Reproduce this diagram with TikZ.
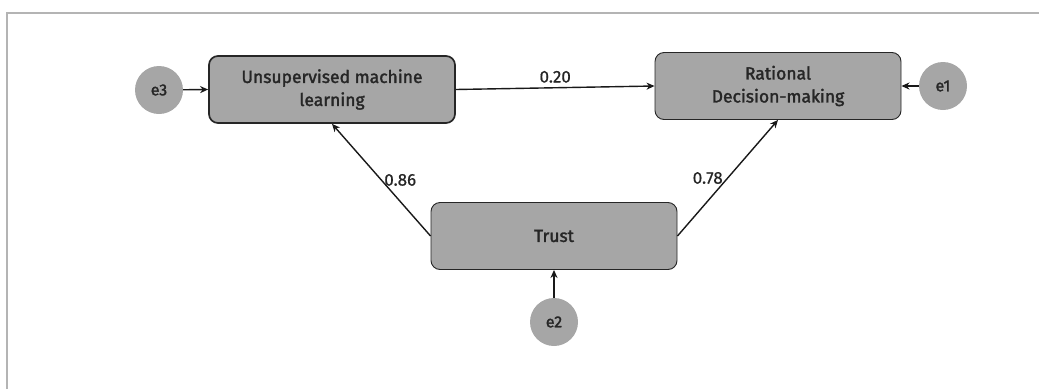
\documentclass[tikz,border=0pt]{standalone}
\usepackage{fontspec}
\setmainfont{Fira Sans}
\usetikzlibrary{arrows.meta}
\definecolor{boxgray}{HTML}{A6A6A6}
\definecolor{framegray}{HTML}{B4B4B4}
\definecolor{txt}{HTML}{262626}
\tikzset{
  var/.style={draw=black!85, fill=boxgray, rounded corners=9pt, minimum width=246pt, minimum height=67pt, align=center, text=txt, font=\fontsize{17.5}{23}\selectfont\addfontfeature{FakeBold=1.8}, line width=0.9pt},
  err/.style={circle, fill=boxgray, draw=none, minimum size=48pt, inner sep=0pt, text=txt, font=\fontsize{16}{18}\selectfont\addfontfeature{FakeBold=1.8}},
  conn/.style={-{Stealth[length=8pt,width=7pt,inset=2.5pt]}, line width=1.4pt, black!90},
  lbl/.style={font=\fontsize{17}{19}\selectfont\addfontfeature{FakeBold=0.7}, text=txt}
}
\begin{document}
\begin{tikzpicture}[x=1pt,y=1pt]
\useasboundingbox (0,0) rectangle (1039,-389);
\draw[framegray, line width=2pt] (7,-389) -- (7,-13) -- (1039,-13);
\node[var, line width=1.7pt] (uml) at (332,-89.5) {Unsupervised machine\\learning};
\node[var] (rdm) at (778,-86) {Rational\\Decision-making};
\node[var] (trust) at (554,-236) {Trust};
\node[err] (e3) at (159,-90) {e3};
\node[err] (e1) at (943,-86) {e1};
\node[err] (e2) at (554,-322) {e2};
\draw[conn] (uml.east) -- (rdm.west) node[lbl, pos=0.5, above=1pt] {0.20};
\draw[conn] (trust.west) -- (uml.south) node[lbl, pos=0.5, right=-1pt] {0.86};
\draw[conn] (trust.east) -- (rdm.south) node[lbl, pos=0.5, left=1pt] {0.78};
\draw[conn] (e3) -- (uml.west);
\draw[conn] (e1) -- (rdm.east);
\draw[conn] (e2) -- (trust.south);
\end{tikzpicture}
\end{document}
